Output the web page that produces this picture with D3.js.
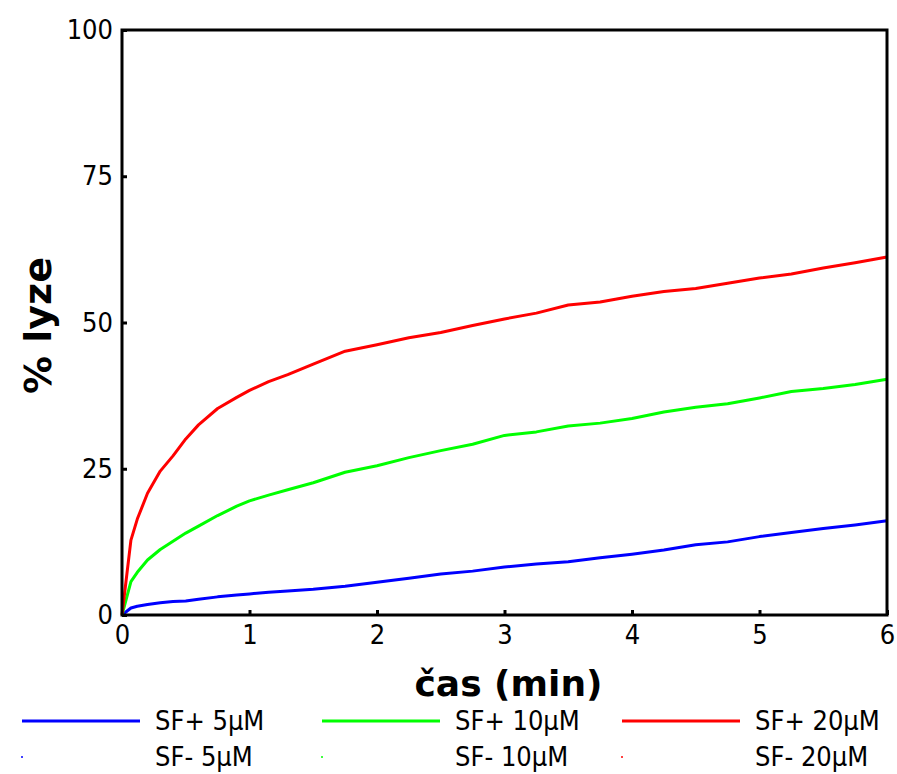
<!DOCTYPE html>
<html>
<head>
  <meta charset="utf-8">
  <title>% lyze</title>
  <style>
    body { margin: 0; background: #fff; }
    text { font-family: "DejaVu Sans Condensed", "DejaVu Sans", sans-serif; }
  </style>
</head>
<body>
  <script src="https://cdn.jsdelivr.net/npm/d3@7"></script>
  <script>
    const width = 897;
    const height = 774;

    // time (min)
    const time = [0, 0.07, 0.12, 0.2, 0.3, 0.4, 0.5, 0.6, 0.75, 0.9, 1.0, 1.15, 1.3, 1.5, 1.75,
      2.0, 2.25, 2.5, 2.75, 3.0, 3.25, 3.5, 3.75, 4.0, 4.25, 4.5, 4.75, 5.0, 5.25, 5.5, 5.75, 6.0];

    const sfPlus5 = [0, 1.2, 1.5, 1.8, 2.1, 2.3, 2.4, 2.7, 3.1, 3.4, 3.6, 3.9, 4.1, 4.4, 4.9,
      5.6, 6.3, 7.0, 7.5, 8.2, 8.7, 9.1, 9.8, 10.4, 11.1, 12.0, 12.5, 13.4, 14.1, 14.8, 15.4, 16.1];
    const sfPlus10 = [0, 5.7, 7.3, 9.4, 11.2, 12.6, 14.0, 15.2, 17.0, 18.6, 19.5, 20.5, 21.4, 22.6, 24.4,
      25.5, 26.9, 28.1, 29.2, 30.7, 31.3, 32.3, 32.8, 33.6, 34.7, 35.5, 36.1, 37.1, 38.2, 38.7, 39.4, 40.3];
    const sfPlus20 = [0, 12.8, 16.4, 20.8, 24.6, 27.2, 30.1, 32.5, 35.3, 37.2, 38.4, 39.9, 41.1, 42.9, 45.1,
      46.2, 47.4, 48.3, 49.5, 50.6, 51.6, 53.0, 53.5, 54.5, 55.3, 55.8, 56.7, 57.6, 58.3, 59.3, 60.2, 61.2];

    const xTicks = [0, 1, 2, 3, 4, 5, 6];
    const yTicks = [0, 25, 50, 75, 100];

    const series = [
      { name: 'SF+ 5µM', color: '#0000ff', values: sfPlus5, line: true },
      { name: 'SF+ 10µM', color: '#00ff00', values: sfPlus10, line: true },
      { name: 'SF+ 20µM', color: '#ff0000', values: sfPlus20, line: true },
      { name: 'SF- 5µM', color: '#0000ff', values: [], line: false },
      { name: 'SF- 10µM', color: '#00ff00', values: [], line: false },
      { name: 'SF- 20µM', color: '#ff0000', values: [], line: false }
    ];

    const margin = { left: 122, right: 10, top: 30, bottom: 159 };

    const svg = d3.select('body')
      .append('svg')
      .attr('width', width)
      .attr('height', height);

    const x = d3.scaleLinear()
      .domain([0, 6])
      .range([margin.left, width - margin.right]);

    const y = d3.scaleLinear()
      .domain([0, 100])
      .range([height - margin.bottom, margin.top]);

    // axes with small inward ticks
    const xAxis = svg.append('g')
      .attr('transform', `translate(0,${y(0)})`)
      .call(d3.axisBottom(x).tickValues(xTicks).tickSize(-5).tickPadding(10).tickFormat(d3.format('d')));

    const yAxis = svg.append('g')
      .attr('transform', `translate(${x(0)},0)`)
      .call(d3.axisLeft(y).tickValues(yTicks).tickSize(-5).tickPadding(9).tickFormat(d3.format('d')));

    [xAxis, yAxis].forEach((g) => {
      g.select('.domain').remove();
      g.selectAll('line').attr('stroke', '#000').attr('stroke-width', 3);
      g.selectAll('text')
        .attr('font-family', '"DejaVu Sans Condensed", "DejaVu Sans", sans-serif')
        .attr('font-size', 27)
        .attr('fill', '#000');
    });

    // lines
    const line = d3.line()
      .x((d, i) => x(time[i]))
      .y((d) => y(d));

    svg.append('g')
      .selectAll('path')
      .data(series.filter((s) => s.line))
      .join('path')
      .attr('d', (s) => line(s.values))
      .attr('fill', 'none')
      .attr('stroke', (s) => s.color)
      .attr('stroke-width', 3)
      .attr('stroke-linejoin', 'round');

    // frame
    svg.append('rect')
      .attr('x', x(0))
      .attr('y', y(100))
      .attr('width', x(6) - x(0))
      .attr('height', y(0) - y(100))
      .attr('fill', 'none')
      .attr('stroke', '#000')
      .attr('stroke-width', 3);

    // axis titles
    svg.append('text')
      .attr('x', (x(0) + x(6)) / 2 + 4)
      .attr('y', 696)
      .attr('text-anchor', 'middle')
      .style('font-family', '"DejaVu Sans", sans-serif')
      .attr('font-weight', 'bold')
      .attr('font-size', 36)
      .text('čas (min)');

    svg.append('text')
      .attr('transform', `translate(51,${y(50) + 3}) rotate(-90)`)
      .attr('text-anchor', 'middle')
      .style('font-family', '"DejaVu Sans", sans-serif')
      .attr('font-weight', 'bold')
      .attr('font-size', 38)
      .text('% lyze');

    // legend
    const legend = svg.append('g')
      .selectAll('g')
      .data(series)
      .join('g')
      .attr('transform', (d, i) => `translate(${22 + (i % 3) * 300},${i < 3 ? 721 : 757})`);

    legend.filter((d) => d.line)
      .append('line')
      .attr('x1', 0)
      .attr('x2', 118)
      .attr('stroke', (d) => d.color)
      .attr('stroke-width', 3);

    legend.filter((d) => !d.line)
      .append('circle')
      .attr('r', 1)
      .attr('fill', (d) => d.color);

    legend.append('text')
      .attr('x', 133)
      .attr('dy', '0.35em')
      .attr('font-size', 27)
      .text((d) => d.name);
  </script>
</body>
</html>
